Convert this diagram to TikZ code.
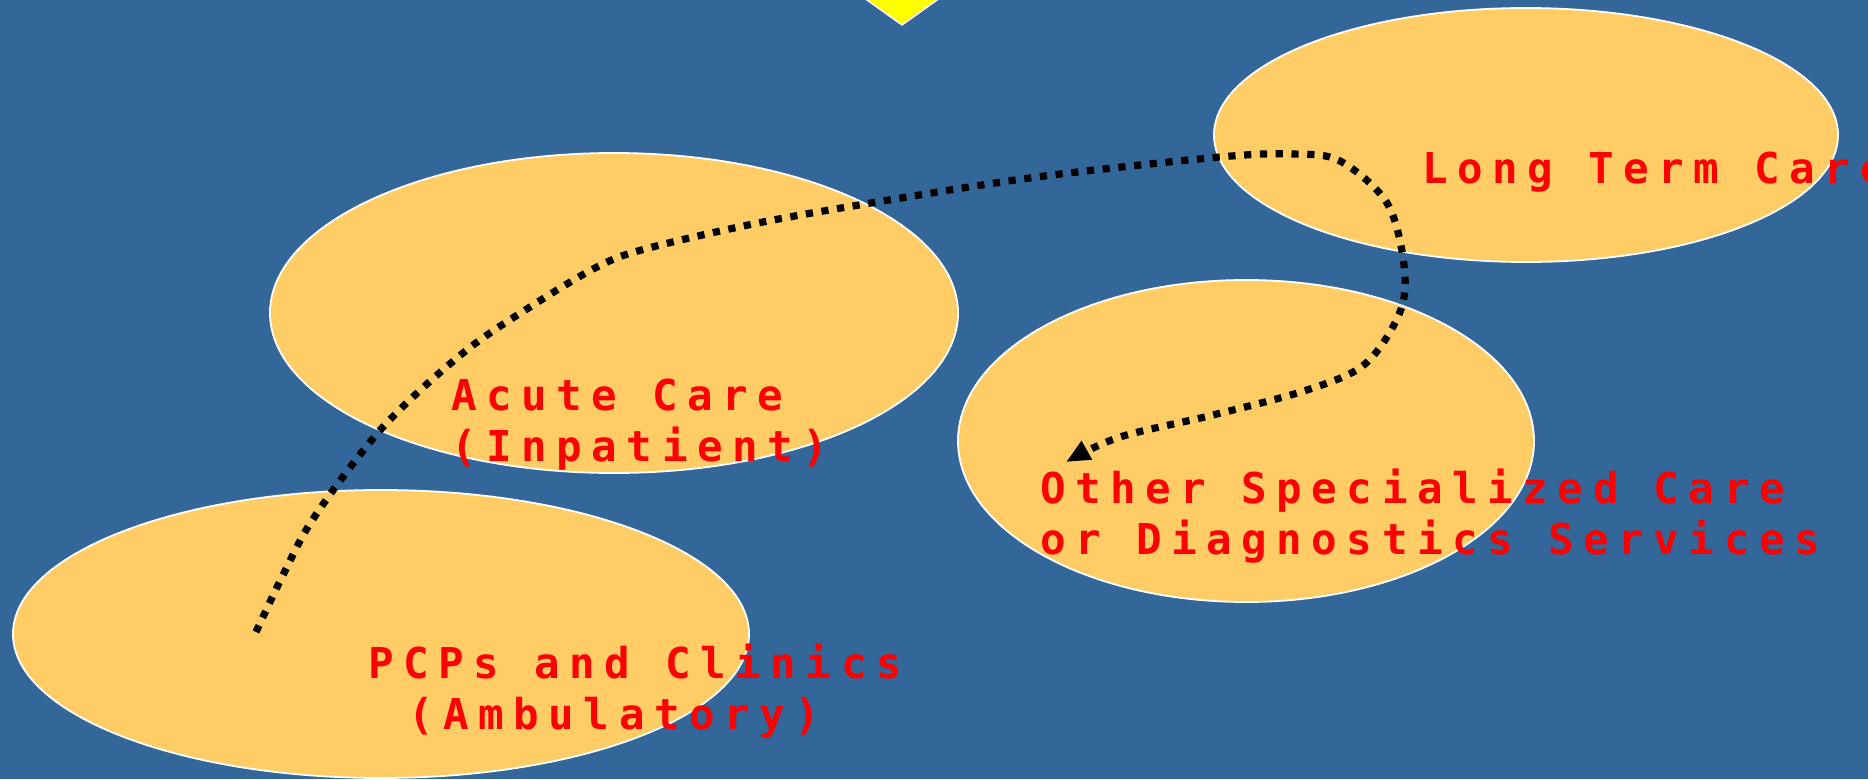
\documentclass[tikz,border=0pt]{standalone}
\usepackage{fontspec}
\usetikzlibrary{shapes.geometric,arrows.meta}
\newfontfamily\pixfont[LetterSpace=22.5]{DejaVu Sans Mono}
\definecolor{bgblue}{HTML}{336699}
\definecolor{bubblefill}{HTML}{FFCC66}
\definecolor{txtred}{HTML}{FF0000}
\definecolor{tri}{HTML}{FFFF00}
\begin{document}
\begin{tikzpicture}[x=1pt,y=-1pt,
  bubble/.style={ellipse, draw=white, line width=1.8pt, fill=bubblefill, inner sep=0pt, outer sep=0pt},
  lbl/.style={anchor=base west, inner sep=0pt, text=txtred, align=left,
    font=\pixfont\bfseries\fontsize{42.5}{51}\selectfont},
  route/.style={line width=7.2pt, dash pattern=on 7.2pt off 8.6pt, line cap=butt},
]
\useasboundingbox (0,0) rectangle (1868,779);
\fill[bgblue] (0,0) rectangle (1868,779);
\begin{scope}
\clip (0,0) rectangle (1868,779);
% yellow marker at top
\filldraw[fill=tri, draw=white, line width=1.5pt] (902,25) -- (832,-25) -- (972,-25) -- cycle;
% bubbles
\node[bubble, minimum width=624pt, minimum height=254pt] (ltc) at (1526,135) {};
\node[bubble, minimum width=688pt, minimum height=320pt] (acute) at (614,313) {};
\node[bubble, minimum width=576pt, minimum height=322pt] (other) at (1246,441) {};
\node[bubble, minimum width=736pt, minimum height=288pt] (pcp) at (381,634) {};
% labels (anchor = baseline of the last line)
\node[lbl] (tltc) at (1422,183) {Long Term Care};
\node[lbl] (tacute) at (451,461) {Acute Care\\(Inpatient)};
\node[lbl] (tother) at (1040,554) {Other Specialized Care\\or Diagnostics Services};
\node[lbl] (tpcp) at (368,729) {PCPs and Clinics\\\hspace*{40pt}(Ambulatory)};
% patient route
\coordinate (s) at (256,632);
\coordinate (e) at (1066,462);
\draw[route, -{Triangle[length=24pt,width=20pt]}] plot[smooth, tension=0.55] coordinates {
  (s) (284,573) (315,516) (383,427) (463,353) (530,307) (597,267) (645,249)
  (753,224) (865,204) (1037,177) (1220,157) (1293,154) (1340,161) (1387,203)
  (1404,265) (1400,312) (1365,364) (1307,390) (1213,415) (1120,437) (e)};
\end{scope}
\end{tikzpicture}
\end{document}
